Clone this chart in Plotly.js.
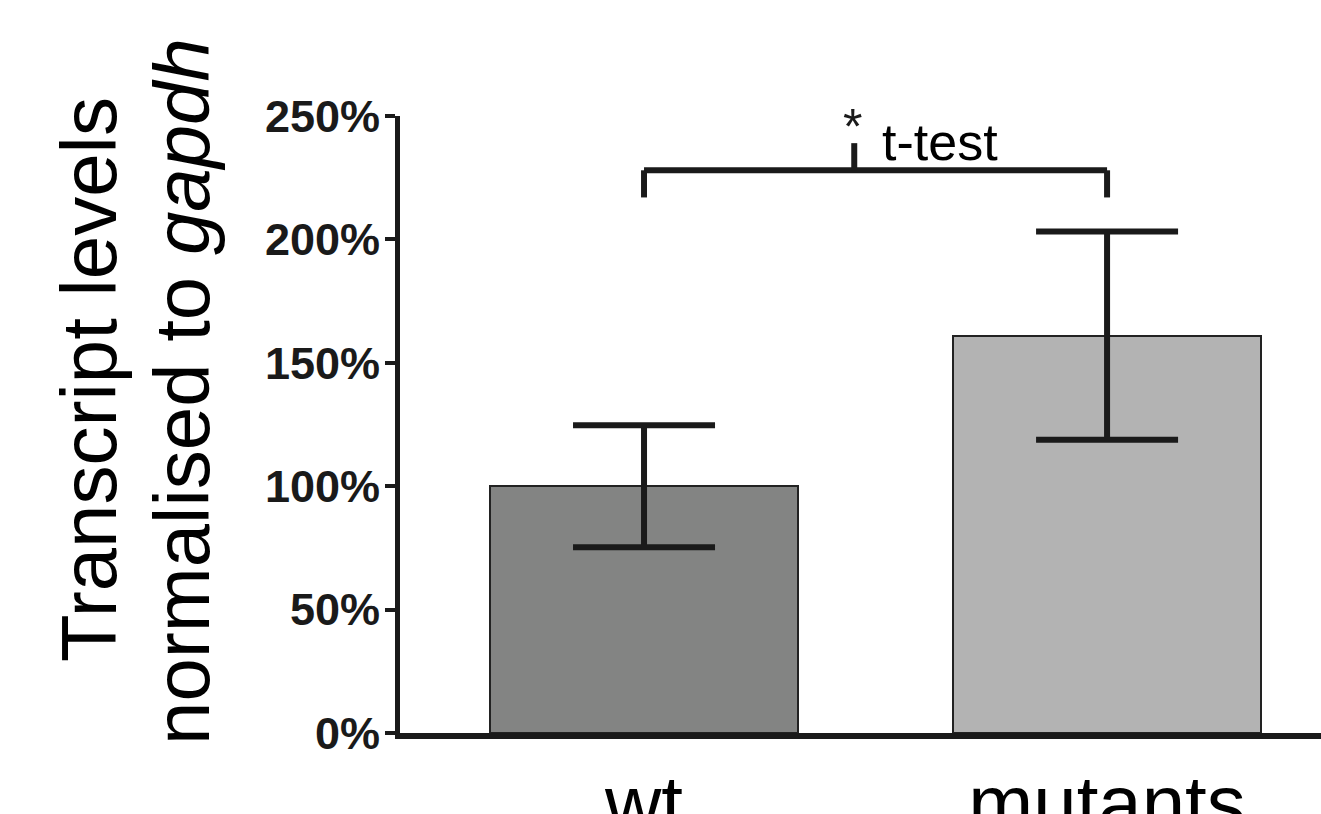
<!DOCTYPE html>
<html>
<head>
<meta charset="utf-8">
<script src="https://cdn.plot.ly/plotly-3.0.1.min.js"></script>
<style>html,body{margin:0;padding:0;background:#fff;}#chart{width:1321px;height:814px;}</style>
</head>
<body>
<div id="chart"></div>
<script>
// ---- data ----
const categories = ['wt', 'mutants'];
const meanLevels = [100, 161];          // % of wt, normalised to gapdh
const errorSEM = [24.7, 42.2];          // error bar half-lengths (%)
const barColors = ['#838483', '#b3b3b3'];
const yTickValues = [0, 50, 100, 150, 200, 250];
const yTickLabels = ['0%', '50%', '100%', '150%', '200%', '250%'];
// significance bracket (data units)
const bracketEnds = [0, 1];
const bracketMid = 0.454;
const bracketLevel = 228;
const bracketLegBottom = 217;
const bracketMidTop = 239;
const sigLabel = 't-test';

// ---- layout helpers ----
const W = 1321, H = 814;
const M = {l: 400, r: 0, t: 116, b: 81};
const pw = W - M.l - M.r, ph = H - M.t - M.b;
const px2x = px => (px - M.l) / pw;
const py2y = py => (H - M.b - py) / ph;
const ink = '#1a1a1a';
const font = '"Liberation Sans", Arial, Helvetica, sans-serif';

const trace = {
  type: 'bar',
  x: categories.map((c, i) => i),
  y: meanLevels,
  width: 0.665,
  marker: {color: barColors, line: {color: '#222', width: 2}},
  error_y: {type: 'data', array: errorSEM, visible: true, color: ink, thickness: 6, width: 71},
  hoverinfo: 'x+y'
};

const lw = 6;
const shapes = [
  {type: 'line', xref: 'x', yref: 'y', x0: bracketEnds[0], x1: bracketEnds[1], y0: bracketLevel, y1: bracketLevel, line: {color: ink, width: lw}},
  {type: 'line', xref: 'x', yref: 'y', x0: bracketEnds[0], x1: bracketEnds[0], y0: bracketLevel, y1: bracketLegBottom, line: {color: ink, width: lw}},
  {type: 'line', xref: 'x', yref: 'y', x0: bracketEnds[1], x1: bracketEnds[1], y0: bracketLevel, y1: bracketLegBottom, line: {color: ink, width: lw}},
  {type: 'line', xref: 'x', yref: 'y', x0: bracketMid, x1: bracketMid, y0: bracketLevel, y1: bracketMidTop, line: {color: ink, width: lw}}
];

const annotations = [
  {xref: 'paper', yref: 'paper', x: px2x(89), y: py2y(380), text: 'Transcript levels', textangle: -90,
   showarrow: false, xanchor: 'center', yanchor: 'middle', font: {family: font, size: 78, color: '#000'}},
  {xref: 'paper', yref: 'paper', x: px2x(182), y: py2y(392), text: 'normalised to <i>gapdh</i>', textangle: -90,
   showarrow: false, xanchor: 'center', yanchor: 'middle', font: {family: font, size: 78, color: '#000'}},
  {xref: 'x', yref: 'y', x: bracketMid, y: bracketMidTop, text: '*', showarrow: false, xanchor: 'center', yanchor: 'bottom',
   yshift: -14, xshift: -2, font: {family: font, size: 50, color: ink}},
  {xref: 'x', yref: 'y', x: bracketMid, y: bracketMidTop, text: sigLabel, showarrow: false, xanchor: 'left', yanchor: 'bottom',
   xshift: 26, yshift: -30, font: {family: font, size: 52, color: '#000'}}
];

const layout = {
  width: W, height: H,
  margin: M,
  paper_bgcolor: '#fff', plot_bgcolor: '#fff',
  showlegend: false,
  bargap: 0,
  xaxis: {
    range: [-0.527, 1.462],
    tickvals: categories.map((c, i) => i),
    ticktext: categories,
    ticks: '', showgrid: false, zeroline: false,
    showline: true, linecolor: ink, linewidth: 6,
    tickfont: {family: font, size: 78, color: '#000'},
    ticklabelstandoff: -3,
    fixedrange: true
  },
  yaxis: {
    range: [0, 250],
    tickvals: yTickValues, ticktext: yTickLabels,
    ticks: 'outside', ticklen: 10, tickwidth: 4, tickcolor: ink,
    showgrid: false, zeroline: false,
    showline: true, linecolor: ink, linewidth: 5,
    tickfont: {family: font, size: 45, color: ink, weight: 'bold'},
    ticklabelstandoff: -4,
    fixedrange: true
  },
  shapes: shapes,
  annotations: annotations
};

Plotly.newPlot('chart', [trace], layout, {displayModeBar: false, responsive: false});
</script>
</body>
</html>
